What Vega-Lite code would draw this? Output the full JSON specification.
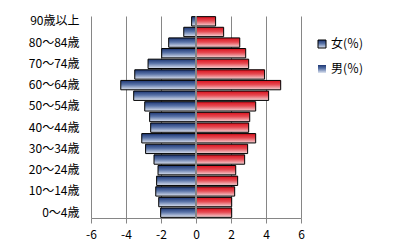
{
  "$schema": "https://vega.github.io/schema/vega-lite/v6.json",
  "width": 210,
  "height": 202,
  "autosize": "none",
  "padding": {"left": 91, "top": 16, "right": 110, "bottom": 33},
  "background": "white",
  "config": {"view": {"stroke": null}, "font": "Noto Sans CJK JP"},
  "data": {"values": [
    {"age": "90歳以上", "sex": "男(％)", "value": -0.25},
    {"age": "85～89歳", "sex": "男(％)", "value": -0.70},
    {"age": "80～84歳", "sex": "男(％)", "value": -1.56},
    {"age": "75～79歳", "sex": "男(％)", "value": -1.96},
    {"age": "70～74歳", "sex": "男(％)", "value": -2.74},
    {"age": "65～69歳", "sex": "男(％)", "value": -3.50},
    {"age": "60～64歳", "sex": "男(％)", "value": -4.30},
    {"age": "55～59歳", "sex": "男(％)", "value": -3.56},
    {"age": "50～54歳", "sex": "男(％)", "value": -2.93},
    {"age": "45～49歳", "sex": "男(％)", "value": -2.65},
    {"age": "40～44歳", "sex": "男(％)", "value": -2.59},
    {"age": "35～39歳", "sex": "男(％)", "value": -3.10},
    {"age": "30～34歳", "sex": "男(％)", "value": -2.88},
    {"age": "25～29歳", "sex": "男(％)", "value": -2.40},
    {"age": "20～24歳", "sex": "男(％)", "value": -2.17},
    {"age": "15～19歳", "sex": "男(％)", "value": -2.25},
    {"age": "10～14歳", "sex": "男(％)", "value": -2.30},
    {"age": "5～9歳", "sex": "男(％)", "value": -2.13},
    {"age": "0～4歳", "sex": "男(％)", "value": -2.02},
    {"age": "90歳以上", "sex": "女(％)", "value": 1.12},
    {"age": "85～89歳", "sex": "女(％)", "value": 1.58},
    {"age": "80～84歳", "sex": "女(％)", "value": 2.50},
    {"age": "75～79歳", "sex": "女(％)", "value": 2.84},
    {"age": "70～74歳", "sex": "女(％)", "value": 3.01},
    {"age": "65～69歳", "sex": "女(％)", "value": 3.92},
    {"age": "60～64歳", "sex": "女(％)", "value": 4.84},
    {"age": "55～59歳", "sex": "女(％)", "value": 4.15},
    {"age": "50～54歳", "sex": "女(％)", "value": 3.41},
    {"age": "45～49歳", "sex": "女(％)", "value": 3.07},
    {"age": "40～44歳", "sex": "女(％)", "value": 3.01},
    {"age": "35～39歳", "sex": "女(％)", "value": 3.41},
    {"age": "30～34歳", "sex": "女(％)", "value": 2.95},
    {"age": "25～29歳", "sex": "女(％)", "value": 2.78},
    {"age": "20～24歳", "sex": "女(％)", "value": 2.27},
    {"age": "15～19歳", "sex": "女(％)", "value": 2.38},
    {"age": "10～14歳", "sex": "女(％)", "value": 2.21},
    {"age": "5～9歳", "sex": "女(％)", "value": 2.04},
    {"age": "0～4歳", "sex": "女(％)", "value": 2.04}
  ]},
  "layer": [
    {
      "mark": {"type": "bar", "strokeWidth": 1},
      "encoding": {
        "y": {
          "field": "age", "type": "nominal",
          "sort": ["90歳以上","85～89歳","80～84歳","75～79歳","70～74歳","65～69歳","60～64歳","55～59歳","50～54歳","45～49歳","40～44歳","35～39歳","30～34歳","25～29歳","20～24歳","15～19歳","10～14歳","5～9歳","0～4歳"],
          "scale": {"paddingInner": 0.12, "paddingOuter": 0.06},
          "axis": {
            "title": null, "domain": false, "ticks": false,
            "labelPadding": 12, "labelFontSize": 12, "labelColor": "black",
            "labelOverlap": false,
            "labelExpr": "test(/^[0-9]?0～|以上/, datum.value) ? datum.value : ''"
          }
        },
        "x": {
          "field": "value", "type": "quantitative",
          "scale": {"domain": [-6, 6], "nice": false},
          "axis": {
            "title": null, "tickCount": 6,
            "grid": true, "gridColor": "#868686", "gridOpacity": 1,
            "domainColor": "#868686", "tickColor": "#868686", "tickSize": 5,
            "labelPadding": 6, "labelFontSize": 12, "labelColor": "black",
            "labelOverlap": false, "labelFlush": false,
            "labelExpr": "'' + datum.value"
          }
        },
        "fill": {
          "condition": {
            "test": "datum.sex === '女(％)'",
            "value": {"gradient": "linear", "x1": 0, "y1": 0, "x2": 0, "y2": 1, "stops": [{"offset": 0, "color": "#d8101c"}, {"offset": 0.45, "color": "#e64a52"}, {"offset": 1, "color": "#f4d6d8"}]}
          },
          "value": {"gradient": "linear", "x1": 0, "y1": 0, "x2": 0, "y2": 1, "stops": [{"offset": 0, "color": "#1c3572"}, {"offset": 0.45, "color": "#5a74a8"}, {"offset": 1, "color": "#dfe5f1"}]}
        },
        "stroke": {
          "field": "sex", "type": "nominal",
          "scale": {"domain": ["女(％)", "男(％)"], "range": ["black", "black"]},
          "legend": {
            "title": null, "orient": "none", "legendX": 225, "legendY": 22,
            "values": ["女(％)"],
            "padding": 0, "symbolType": "square", "symbolSize": 64,
            "symbolStrokeWidth": 1,
            "labelFontSize": 12, "labelColor": "black", "labelOffset": 3,
            "encode": {
              "symbols": {
                "update": {
                  "fill": {"value": "#e0454e"},
                  "opacity": {"value": 1}
                }
              }
            }
          }
        },
        "opacity": {
          "field": "sex", "type": "ordinal",
          "scale": {"domain": ["男(％)", "女(％)"], "range": [1, 1]},
          "legend": {
            "title": null, "orient": "none", "legendX": 225, "legendY": 47,
            "values": ["男(％)"],
            "padding": 0, "symbolType": "square", "symbolSize": 64,
            "symbolStrokeColor": "black", "symbolStrokeWidth": 1,
            "labelFontSize": 12, "labelColor": "black", "labelOffset": 3,
            "encode": {
              "symbols": {
                "update": {
                  "fill": {"value": "#4a64a0"},
                  "stroke": {"value": "black"},
                  "opacity": {"value": 1}
                }
              }
            }
          }
        }
      }
    },
    {
      "mark": {"type": "rule", "color": "#868686"},
      "encoding": {"x": {"datum": 0}}
    }
  ]
}
